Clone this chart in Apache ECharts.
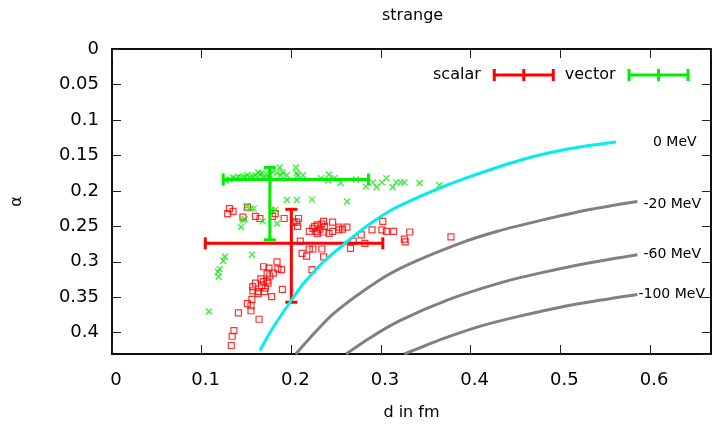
<!DOCTYPE html>
<html>
<head>
<meta charset="utf-8">
<script src="https://cdn.jsdelivr.net/npm/echarts@6/dist/echarts.min.js"></script>
<style>
  html, body { margin: 0; padding: 0; background: #ffffff; overflow: hidden; }
  #chart { width: 714px; height: 426px; }
</style>
</head>
<body>
<div id="chart"></div>
<script>
// Scalar channel samples: [d (fm), alpha]
const scalarPoints = [
  [0.131,0.225],[0.129,0.232],[0.135,0.229],[0.151,0.223],[0.146,0.237],[0.160,0.236],
  [0.165,0.239],[0.179,0.236],[0.182,0.232],[0.192,0.239],[0.203,0.244],[0.206,0.244],
  [0.208,0.239],[0.207,0.250],[0.220,0.257],[0.224,0.253],[0.226,0.250],[0.228,0.257],
  [0.229,0.248],[0.232,0.254],[0.234,0.247],[0.236,0.243],[0.237,0.250],[0.229,0.260],
  [0.236,0.258],[0.242,0.260],[0.246,0.244],[0.246,0.257],[0.253,0.251],[0.253,0.255],
  [0.257,0.254],[0.262,0.251],[0.278,0.262],[0.290,0.255],[0.302,0.243],[0.301,0.255],
  [0.306,0.257],[0.314,0.257],[0.332,0.258],[0.326,0.268],[0.327,0.272],[0.269,0.271],
  [0.282,0.274],[0.266,0.281],[0.378,0.265],[0.210,0.271],[0.220,0.282],[0.224,0.282],
  [0.234,0.282],[0.212,0.288],[0.217,0.292],[0.236,0.293],[0.223,0.311],
  [0.184,0.300],[0.169,0.307],[0.175,0.309],[0.185,0.310],[0.189,0.311],[0.180,0.316],
  [0.173,0.316],[0.176,0.320],[0.166,0.324],[0.173,0.327],[0.160,0.330],[0.169,0.328],
  [0.174,0.330],[0.157,0.335],[0.167,0.334],[0.171,0.337],[0.157,0.341],[0.163,0.342],
  [0.163,0.345],[0.170,0.342],[0.190,0.339],[0.156,0.353],[0.178,0.349],[0.151,0.359],
  [0.155,0.362],[0.155,0.369],[0.141,0.372],[0.164,0.381],[0.136,0.397],[0.134,0.405],
  [0.133,0.418]
];

// Vector channel samples: [d (fm), alpha]
const vectorPoints = [
  [0.127,0.185],[0.131,0.184],[0.135,0.181],[0.138,0.182],[0.141,0.180],[0.145,0.181],
  [0.148,0.180],[0.151,0.178],[0.154,0.181],[0.157,0.180],[0.160,0.178],[0.163,0.174],
  [0.165,0.177],[0.167,0.175],[0.169,0.180],[0.173,0.178],[0.176,0.177],[0.179,0.173],
  [0.184,0.175],[0.187,0.167],[0.188,0.178],[0.190,0.174],[0.195,0.178],[0.205,0.167],
  [0.206,0.175],[0.207,0.178],[0.213,0.178],[0.233,0.182],[0.242,0.177],[0.241,0.185],
  [0.248,0.182],[0.255,0.189],[0.272,0.184],[0.283,0.194],[0.291,0.188],[0.295,0.195],
  [0.301,0.188],[0.306,0.182],[0.313,0.195],[0.317,0.188],[0.322,0.188],[0.326,0.188],
  [0.343,0.189],[0.365,0.192],
  [0.150,0.222],[0.155,0.225],[0.158,0.225],[0.148,0.240],[0.146,0.241],[0.144,0.251],
  [0.168,0.243],[0.178,0.227],[0.182,0.227],[0.184,0.246],[0.195,0.213],[0.206,0.213],
  [0.223,0.212],[0.262,0.215],
  [0.126,0.293],[0.124,0.299],[0.120,0.310],[0.118,0.314],[0.119,0.321],[0.156,0.290],
  [0.108,0.370]
];

// Mean values with spread: [d, alpha, dLow, dHigh, alphaLow, alphaHigh]
const scalarBar = [[0.200, 0.274, 0.104, 0.302, 0.226, 0.357]];
const vectorBar = [[0.176, 0.184, 0.124, 0.286, 0.167, 0.269]];

// Binding-energy contours: [d (fm), alpha]
const curve0 = [
  [0.165,0.425],[0.180,0.392],[0.209,0.338],[0.218,0.324],[0.235,0.301],[0.257,0.277],
  [0.284,0.250],[0.313,0.226],[0.354,0.202],[0.399,0.180],[0.460,0.155],[0.513,0.140],
  [0.562,0.131]
];
const curve20 = [
  [0.205,0.430],[0.221,0.407],[0.248,0.372],[0.298,0.326],[0.332,0.303],[0.388,0.274],
  [0.430,0.257],[0.477,0.242],[0.530,0.227],[0.586,0.215]
];
const curve60 = [
  [0.261,0.430],[0.288,0.407],[0.321,0.383],[0.376,0.353],[0.432,0.330],[0.477,0.316],
  [0.530,0.302],[0.586,0.290]
];
const curve100 = [
  [0.326,0.430],[0.350,0.418],[0.370,0.408],[0.410,0.391],[0.450,0.378],[0.500,0.364],
  [0.545,0.354],[0.586,0.346]
];
const curveNames = ['0 MeV', '-20 MeV', '-60 MeV', '-100 MeV'];

const FONT = 'DejaVu Sans';
const RED = '#ff0000';
const GREEN = '#00ee00';
const CYAN = '#00eeee';
const GRAY = '#808080';

// error-bar glyph for the legend: bar with end caps and a centre tick
const errIcon = 'path://M0,0h3v12h-3z M29.5,0h3v12h-3z M59,0h3v12h-3z M0,4.5h62v3h-62z';

function errorBars(color) {
  return function (params, api) {
    const c = api.coord([api.value(0), api.value(1)]);
    const l = api.coord([api.value(2), api.value(1)]);
    const r = api.coord([api.value(3), api.value(1)]);
    const t = api.coord([api.value(0), api.value(4)]);
    const b = api.coord([api.value(0), api.value(5)]);
    const h = 6;
    const style = { stroke: color, lineWidth: 3 };
    const seg = (x1, y1, x2, y2) => ({ type: 'line', shape: { x1, y1, x2, y2 }, style });
    return {
      type: 'group',
      children: [
        seg(l[0], c[1], r[0], c[1]),
        seg(l[0], c[1] - h, l[0], c[1] + h),
        seg(r[0], c[1] - h, r[0], c[1] + h),
        seg(c[0], t[1], c[0], b[1]),
        seg(c[0] - h, t[1], c[0] + h, t[1]),
        seg(c[0] - h, b[1], c[0] + h, b[1])
      ]
    };
  };
}

function contour(name, data, color, distance, dy) {
  return {
    name: name,
    type: 'line',
    data: data,
    smooth: 0.3,
    showSymbol: false,
    silent: true,
    z: 4,
    lineStyle: { color: color, width: 3 },
    itemStyle: { color: color },
    endLabel: {
      show: true,
      formatter: name,
      distance: distance,
      offset: [0, dy],
      color: '#000',
      fontFamily: FONT,
      fontSize: 14
    }
  };
}

const axisLine = { show: true, onZero: false, lineStyle: { color: '#000', width: 1.5 } };
const tick = { show: true, inside: true, length: 9, lineStyle: { color: '#222', width: 1 } };

const chart = echarts.init(document.getElementById('chart'), null, { renderer: 'canvas' });
chart.setOption({
  animation: false,
  backgroundColor: '#ffffff',
  title: {
    text: 'strange',
    left: 382,
    top: 8,
    padding: 0,
    textStyle: { fontFamily: FONT, fontSize: 16, fontWeight: 'normal', color: '#000' }
  },
  legend: {
    data: [{ name: 'scalar', icon: errIcon }, { name: 'vector', icon: errIcon }],
    align: 'right',
    left: 428,
    top: 62,
    itemWidth: 62,
    itemHeight: 12,
    itemGap: 10,
    selectedMode: false,
    textStyle: { fontFamily: FONT, fontSize: 16, color: '#000', padding: [0, 7, 0, 0] }
  },
  grid: {
    left: 112, top: 49, width: 599, height: 307,
    show: true, borderColor: '#000', borderWidth: 1.5, backgroundColor: 'rgba(0,0,0,0)'
  },
  xAxis: [
    {
      type: 'value', gridIndex: 0, min: 0, max: 0.668, interval: 0.1, position: 'bottom',
      axisLine: axisLine, axisTick: tick, splitLine: { show: false },
      axisLabel: { margin: 17, padding: [0, 0, 0, 8], fontFamily: FONT, fontSize: 18, color: '#000', showMaxLabel: false },
      name: 'd in fm', nameLocation: 'middle', nameGap: 51,
      nameTextStyle: { fontFamily: FONT, fontSize: 16, color: '#000' }
    },
    {
      type: 'value', gridIndex: 0, min: 0, max: 0.668, interval: 0.1, position: 'top',
      axisLine: axisLine, axisTick: tick, splitLine: { show: false },
      axisLabel: { show: false }
    }
  ],
  yAxis: [
    {
      type: 'value', gridIndex: 0, inverse: true, min: 0, max: 0.43, interval: 0.05, position: 'left',
      axisLine: axisLine, axisTick: tick, splitLine: { show: false },
      axisLabel: { margin: 13, fontFamily: FONT, fontSize: 18, color: '#000', showMaxLabel: false },
      name: 'α', nameLocation: 'middle', nameRotate: 90, nameGap: 87,
      nameTextStyle: { fontFamily: FONT, fontSize: 16, color: '#000' }
    },
    {
      type: 'value', gridIndex: 0, inverse: true, min: 0, max: 0.43, interval: 0.05, position: 'right',
      offset: 0,
      axisLine: axisLine, axisTick: tick, splitLine: { show: false },
      axisLabel: { show: false }
    }
  ],
  series: [
    {
      name: 'scalar', type: 'custom', renderItem: errorBars(RED),
      data: scalarBar, encode: { x: [0, 2, 3], y: [1, 4, 5] },
      itemStyle: { color: RED }, z: 3, silent: true
    },
    {
      name: 'vector', type: 'custom', renderItem: errorBars(GREEN),
      data: vectorBar, encode: { x: [0, 2, 3], y: [1, 4, 5] },
      itemStyle: { color: GREEN }, z: 3, silent: true
    },
    {
      name: 'scalar', type: 'scatter', data: scalarPoints,
      symbol: 'rect', symbolSize: 6, z: 2, silent: true,
      itemStyle: { color: 'rgba(0,0,0,0)', borderColor: RED, borderWidth: 1.2 }
    },
    {
      name: 'vector', type: 'scatter', data: vectorPoints,
      symbol: 'path://M0,0L10,10M10,0L0,10', symbolSize: 6, z: 2, silent: true,
      itemStyle: { color: 'rgba(0,0,0,0)', borderColor: GREEN, borderWidth: 1.3 }
    },
    contour(curveNames[0], curve0, CYAN, 37, 0),
    contour(curveNames[1], curve20, GRAY, 6, 3),
    contour(curveNames[2], curve60, GRAY, 6, 0),
    contour(curveNames[3], curve100, GRAY, 1, 0)
  ]
});
</script>
</body>
</html>
